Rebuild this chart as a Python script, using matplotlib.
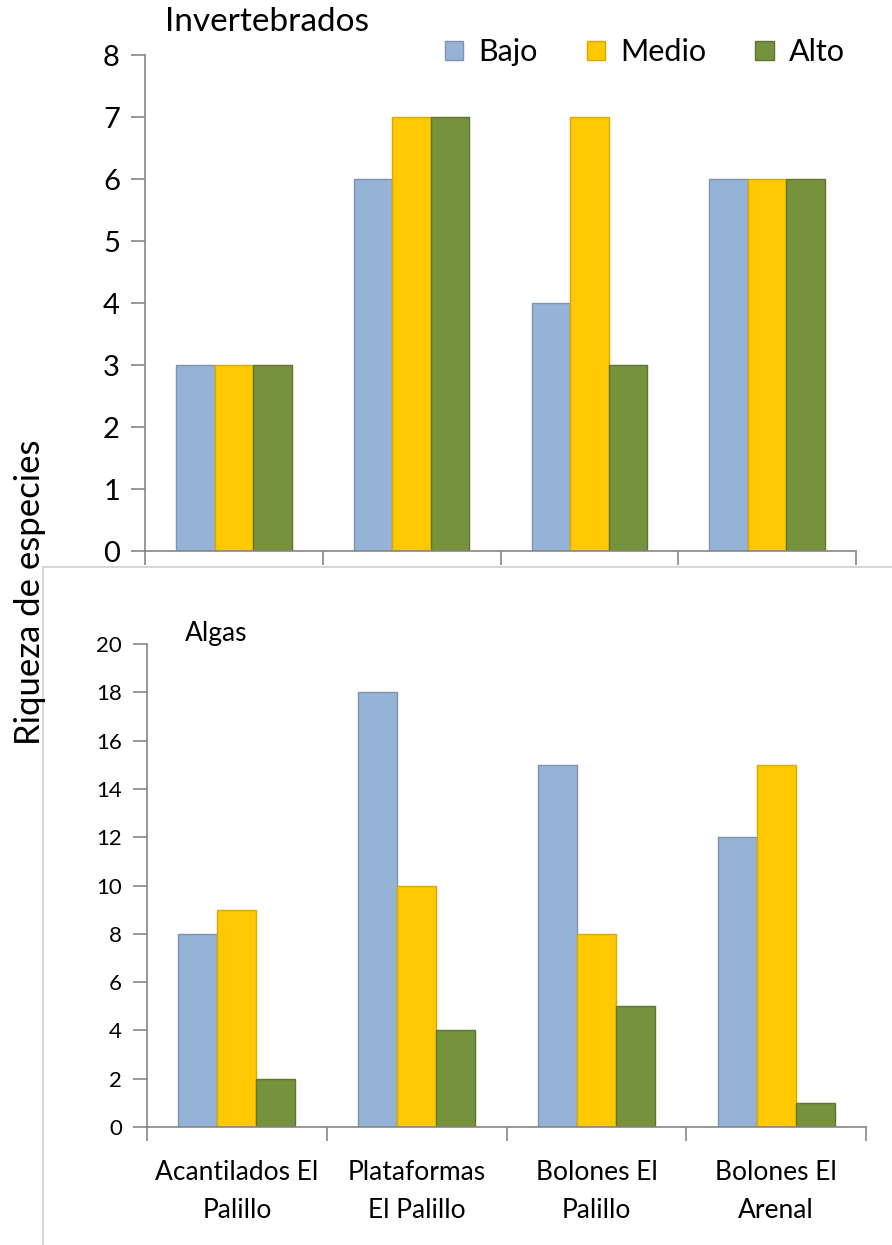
import matplotlib.pyplot as plt
import numpy as np
from matplotlib.patches import Rectangle

plt.rcParams['font.family'] = ['Lato', 'DejaVu Sans']

sites = ["Acantilados El\nPalillo", "Plataformas\nEl Palillo", "Bolones El\nPalillo", "Bolones El\nArenal"]
levels = ["Bajo", "Medio", "Alto"]

invert_bajo = [3, 6, 4, 6]
invert_medio = [3, 7, 7, 6]
invert_alto = [3, 7, 3, 6]

algas_bajo = [8, 18, 15, 12]
algas_medio = [9, 10, 8, 15]
algas_alto = [2, 4, 5, 1]

colors = ['#95B3D7', '#FFC800', '#76923C']
edges = ['#7f93ad', '#d9a900', '#5f7530']
axis_grey = '#868686'

W, H = 892, 1245
fig = plt.figure(figsize=(W / 100, H / 100), dpi=100)


def px_axes(left, right, top, bottom):
    return fig.add_axes([left / W, 1 - bottom / H, (right - left) / W, (bottom - top) / H])


def draw_bars(ax, series, labelsize):
    x = np.arange(len(sites))
    bw = 0.217
    for i, vals in enumerate(series):
        ax.bar(x + (i - 1) * bw, vals, bw, color=colors[i], edgecolor=edges[i],
               linewidth=1.0, label=levels[i], zorder=2)
    ax.set_xlim(-0.5, len(sites) - 0.5)
    ax.set_xticks(np.arange(len(sites) + 1) - 0.5)
    ax.set_xticklabels([])
    ax.patch.set_alpha(0)
    for s in ['top', 'right']:
        ax.spines[s].set_visible(False)
    for s in ['left', 'bottom']:
        ax.spines[s].set_color(axis_grey)
        ax.spines[s].set_linewidth(1.2)
    ax.tick_params(axis='both', colors=axis_grey, length=10, width=1.2, labelcolor='black',
                   labelsize=labelsize)
    ax.tick_params(axis='y', pad=8)


# background frame around the lower chart
frame = Rectangle((43 / W, -0.01), 1, 1.01 - 567 / H, transform=fig.transFigure,
                  facecolor='white', edgecolor='#cfcfcf', linewidth=1.2, zorder=-1)
fig.add_artist(frame)

# Invertebrados
ax1 = px_axes(145, 856, 55, 551)
draw_bars(ax1, [invert_bajo, invert_medio, invert_alto], 21)
ax1.set_ylim(0, 8)
ax1.set_yticks(range(0, 9))
fig.text(165 / W, 1 - 22 / H, "Invertebrados", fontsize=24, va='center', ha='left')
ax1.legend(loc='center', bbox_to_anchor=(645 / W, 1 - 52 / H), bbox_transform=fig.transFigure,
           ncol=3, frameon=False, fontsize=22, handlelength=0.6, handleheight=0.6,
           handletextpad=0.5, columnspacing=1.6, borderpad=0, borderaxespad=0)

# Algas
ax2 = px_axes(147, 866, 644, 1127)
draw_bars(ax2, [algas_bajo, algas_medio, algas_alto], 16)
ax2.set_ylim(0, 20)
ax2.set_yticks(range(0, 21, 2))
ax2.set_xticks(np.arange(len(sites)), labels=sites, minor=True)
ax2.tick_params(axis='x', which='minor', length=0, labelsize=19, pad=24)
for lbl in ax2.get_xticklabels(minor=True):
    lbl.set_linespacing(1.65)
fig.text(185 / W, 1 - 633 / H, "Algas", fontsize=19, va='center', ha='left')

fig.text(30 / W, 1 - 592 / H, "Riqueza de especies", fontsize=25, rotation=90,
         va='center', ha='center')

fig.savefig('out.png', dpi=100)
